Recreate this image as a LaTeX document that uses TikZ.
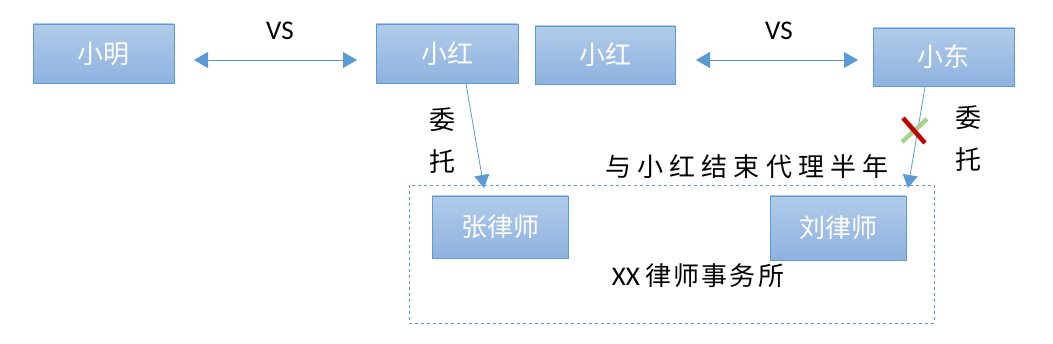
\documentclass[tikz,border=0pt]{standalone}
\usepackage{fontspec}
\newfontfamily\cjk{Noto Sans CJK SC}
\newfontfamily\latinf{Carlito}
\usetikzlibrary{arrows.meta}
\definecolor{boxline}{HTML}{5B9BD5}
\definecolor{boxtop}{HTML}{B1CBEA}
\definecolor{boxbot}{HTML}{8EB2DF}
\definecolor{crossred}{HTML}{C00000}
\definecolor{crossgreen}{HTML}{A9D18E}
\tikzset{
  person/.style={draw=boxline, line width=0.8pt, top color=boxtop, bottom color=boxbot,
    minimum width=#1, text=white, font=\cjk\fontsize{26}{26}\selectfont, inner sep=0pt},
  person/.default=141pt,
  conn/.style={draw=boxline, line width=0.8pt, -{Triangle[length=13pt,width=15pt]}},
  biconn/.style={draw=boxline, line width=0.8pt, {Triangle[length=14pt,width=16pt]}-{Triangle[length=14pt,width=16pt]}},
  lbl/.style={font=\cjk\fontsize{26}{26}\selectfont, text=black, inner sep=0pt},
  vs/.style={font=\latinf\fontsize{27}{27}\selectfont, inner sep=0pt},
}
\begin{document}
\begin{tikzpicture}[x=1pt,y=-1pt]
\useasboundingbox (0,0) rectangle (1053,344);
% firm box
\draw[boxline, dashed, line width=0.7pt] (409,185) rectangle (934,323);
\node[person=141pt, minimum height=59pt] (ming) at (103.5,53.5) {小明};
\node[person=142pt, minimum height=59pt] (hong1) at (447,53.5) {小红};
\node[person=140pt, minimum height=58pt] (hong2) at (605,55) {小红};
\node[person=141pt, minimum height=58pt] (dong) at (943.5,57) {小东};
\node[person=136pt, minimum height=62pt] (zhang) at (500,227) {张律师};
\node[person=136pt, minimum height=64pt] (liu) at (838,228) {刘律师};
\coordinate (a1s) at (194,60);
\coordinate (a1e) at (357,60);
\coordinate (a2s) at (696,60);
\coordinate (a2e) at (858,60);
\draw[biconn] (a1s) -- (a1e);
\draw[biconn] (a2s) -- (a2e);
\node[vs] (vs1) at (280,31) {VS};
\node[vs] (vs2) at (779,31) {VS};
\coordinate (h1) at (466,84);
\coordinate (z1) at (484,188);
\draw[conn] (h1) -- (z1);
\coordinate (d1) at (925,87);
\coordinate (l1) at (908,188);
\draw[conn] (d1) -- (l1);
\node[lbl] (wei1) at (442,120) {委};
\node[lbl] (tuo1) at (442,162) {托};
\node[lbl] (wei2) at (968,118) {委};
\node[lbl] (tuo2) at (968,160) {托};
\coordinate (g1) at (902,142);
\coordinate (g2) at (927,119);
\coordinate (r1) at (903,118);
\coordinate (r2) at (925,143);
\draw[crossgreen, line width=4.5pt] (g1) -- (g2);
\draw[crossred, line width=4.5pt] (r1) -- (r2);
\node[lbl, font=\cjk\fontsize{26}{26}\selectfont\addfontfeatures{LetterSpace=24}] (end) at (747,167) {与小红结束代理半年};
\node[lbl] (firm) at (698,276) {{\latinf\fontsize{27}{27}\selectfont XX} {\addfontfeatures{LetterSpace=8}律师事务所}};
\end{tikzpicture}
\end{document}
